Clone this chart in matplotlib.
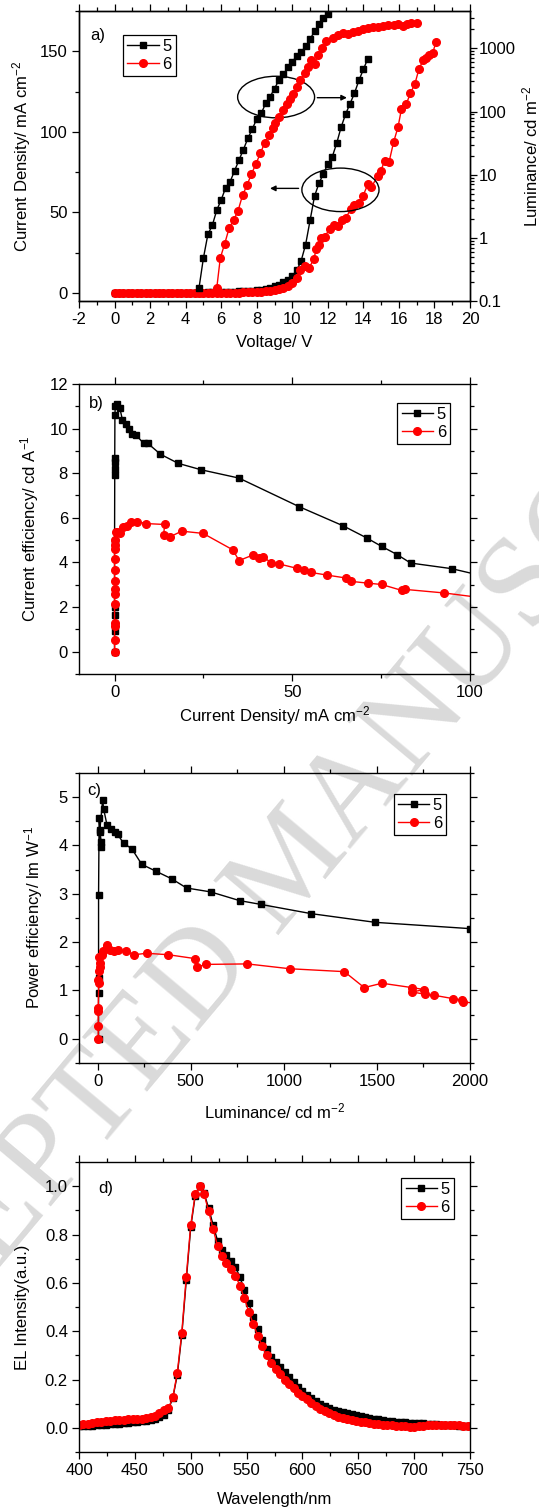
import matplotlib
matplotlib.use("Agg")
import matplotlib.pyplot as plt
from matplotlib.patches import Ellipse
from matplotlib.ticker import MultipleLocator, FixedLocator, FuncFormatter, LogLocator, NullFormatter

plt.rcParams['font.family'] = ['Liberation Sans', 'DejaVu Sans']
plt.rcParams['mathtext.fontset'] = 'custom'
plt.rcParams['mathtext.rm'] = 'Liberation Sans'
plt.rcParams['mathtext.it'] = 'Liberation Sans:italic'
plt.rcParams['axes.unicode_minus'] = False

# ---------------- a) J-V-L ----------------
volt_lum_5 = [4.75, 5.0, 5.25, 5.5, 5.75, 6.0, 6.25, 6.5, 6.75, 7.0, 7.25, 7.5, 7.75, 8.0, 8.25,
              8.5, 8.75, 9.0, 9.25, 9.5, 9.75, 10.0, 10.25, 10.5, 10.75, 11.0, 11.25, 11.5, 11.75, 12.0]
lum_5 = [0.16, 0.48, 1.13, 1.58, 2.74, 4.0, 6.2, 7.7, 11.5, 17, 25, 37.5, 53, 76, 93,
         134, 171, 230, 316, 390, 500, 610, 755, 870, 1080, 1400, 1850, 2400, 3000, 3500]

volt_lum_6 = [5.75, 5.95, 6.2, 6.45, 6.7, 6.95, 7.2, 7.45, 7.7, 7.95, 8.2, 8.45, 8.7, 8.9, 9.05,
              9.25, 9.45, 9.7, 9.85, 10.05, 10.25, 10.45, 10.7, 10.9, 11.05, 11.25, 11.45, 11.7,
              11.9, 12.3, 12.55, 12.85, 13.15, 13.4, 13.7, 14.0, 14.25, 14.55, 14.85, 15.1,
              15.4, 15.7, 15.95, 16.25, 16.45, 16.7, 17.0]
lum_6 = [0.16, 0.48, 0.81, 1.44, 1.9, 2.7, 4.7, 6.8, 10.2, 14.7, 21.7, 32, 42, 54, 66,
         82, 105, 131, 155, 187, 246, 314, 400, 510, 650, 575, 780, 1000,
         1320, 1480, 1630, 1770, 1700, 1790, 1880, 1990, 2080, 2150, 2200, 2260,
         2320, 2370, 2430, 2260, 2430, 2500, 2560]

volt_j_5 = [0.0, 0.25, 0.5, 0.75, 1.0, 1.25, 1.5, 1.75, 2.0, 2.25, 2.5, 2.75, 3.0, 3.25, 3.5,
            3.75, 4.0, 4.25, 4.5, 4.75, 5.0, 5.25, 5.5, 5.75, 6.0, 6.25, 6.5, 6.75, 7.0, 7.25,
            7.5, 7.75, 8.0, 8.25, 8.5, 8.75, 9.0, 9.25, 9.5, 9.75, 10.0, 10.25, 10.5, 10.75,
            11.0, 11.25, 11.5, 11.75, 12.0, 12.25, 12.5, 12.75, 13.0, 13.25, 13.5, 13.75,
            14.0, 14.25]
j_5 = [0, 0, 0, 0, 0, 0, 0, 0, 0, 0, 0, 0, 0, 0, 0,
       0, 0, 0.1, 0.1, 0.2, 0.2, 0.3, 0.3, 0.4, 0.5, 0.6, 0.7, 0.8, 0.9, 1.0,
       1.2, 1.4, 1.7, 2.0, 2.5, 3.0, 4.0, 5.0, 6.5, 8.0, 10.5, 14, 20, 30,
       45, 60, 68, 74, 80, 84.5, 93, 103, 111, 117.5, 124, 132,
       138.7, 145.5]

volt_j_6 = [0.0, 0.25, 0.5, 0.75, 1.0, 1.25, 1.5, 1.75, 2.0, 2.25, 2.5, 2.75, 3.0, 3.25, 3.5,
            3.75, 4.0, 4.25, 4.5, 4.75, 5.0, 5.25, 5.5, 5.75, 6.0, 6.25, 6.5, 6.75, 7.0, 7.25,
            7.5, 7.75, 8.0, 8.25, 8.5, 8.75, 9.0, 9.25, 9.5, 9.75, 10.0, 10.25, 10.45, 10.7,
            10.95, 11.2, 11.35, 11.5, 11.63, 11.82, 12.1, 12.33, 12.57, 12.82, 13.04, 13.29,
            13.5, 13.75, 13.98, 14.26, 14.45, 14.8, 14.98, 15.2, 15.45, 15.7, 15.95, 16.14,
            16.42, 16.65, 16.9, 17.12, 17.36, 17.5, 17.7, 17.9, 18.08]
j_6 = [0, 0, 0, 0, 0, 0, 0, 0, 0, 0, 0, 0, 0, 0, 0,
       0, 0, 0, 0, 0, 0, 0, 0, 0, 0, 0.1, 0.1, 0.2, 0.2, 0.3,
       0.4, 0.5, 0.6, 0.8, 1.0, 1.3, 1.7, 2.2, 3.0, 4.2, 6.0, 9.0, 14.5, 16.6,
       15.6, 20.8, 27, 30, 34, 35, 39.5, 42, 41.5, 45, 46.8, 52.4,
       54.5, 56, 60.3, 67.6, 65.5, 72.7, 75.9, 82, 81.5, 93.6, 103, 114,
       117.5, 124, 129.8, 138.7, 144.5, 146, 147.6, 149, 155.5]

# ---------------- b) CE vs J ----------------
j_ce_5 = [0, 0, 0, 0, 0, 0.05, 0.05, 0.05, 0.05, 0.1, 0.2, 0.8, 1.5, 2.2, 3.1, 4.1, 5.0, 6.1,
          8.2, 9.4, 12.9, 17.9, 24.4, 35, 51.9, 64.3, 70.9, 75.1, 79.5, 83.3, 94.8, 105]
ce_5 = [0, 0.94, 1.65, 1.98, 4.97, 7.9, 8.2, 8.5, 8.7, 10.6, 11.0, 11.1, 10.9, 10.4, 10.2, 10.0,
        9.75, 9.7, 9.33, 9.33, 8.85, 8.44, 8.15, 7.78, 6.5, 5.64, 5.1, 4.72, 4.35, 3.97, 3.72, 3.34]

j_ce_6 = [0, 0, 0, 0, 0, 0, 0, 0, 0, 0, 0, 0.1, 0.2, 0.3, 0.66, 1.6, 2.3, 3.4, 4.5, 6.3, 8.9,
          14.1, 13.8, 15.6, 18.9, 24.9, 33.3, 35, 38.9, 40.6, 41.8, 44.1, 46.3, 51.4, 53.3,
          55.2, 59.8, 65.1, 66.5, 71.2, 75.1, 80.9, 81.7, 92.7, 105]
ce_6 = [0, 0.52, 1.16, 1.3, 2.12, 2.58, 2.8, 3.17, 3.65, 4.15, 4.6, 4.8, 5.0, 5.35, 5.37, 5.34,
        5.57, 5.64, 5.83, 5.83, 5.74, 5.7, 5.23, 5.15, 5.4, 5.3, 4.56, 4.08, 4.33, 4.18, 4.25,
        3.98, 3.93, 3.73, 3.67, 3.55, 3.43, 3.3, 3.15, 3.07, 3.01, 2.74, 2.79, 2.63, 2.38]

# ---------------- c) PE vs L ----------------
lum_pe_5 = [5, 5, 5, 5, 8, 14, 18, 18, 12, 27, 32, 50, 71, 94, 107, 139, 184, 237, 312, 398,
            478, 607, 762, 878, 1147, 1491, 2000]
pe_5 = [0, 0.94, 1.25, 2.97, 4.57, 4.27, 4.07, 3.96, 4.32, 4.95, 4.76, 4.43, 4.35, 4.28, 4.23,
        4.05, 3.93, 3.61, 3.47, 3.31, 3.12, 3.04, 2.86, 2.78, 2.59, 2.41, 2.28]

lum_pe_6 = [3, 3, 3, 3, 6, 3, 6, 12, 12, 9, 21, 30, 48, 48, 66, 89, 111, 152, 196, 263, 380,
            523, 536, 584, 804, 1032, 1325, 1432, 1527, 1688, 1754, 1691, 1759, 1809, 1911,
            1959, 1965, 2030]
pe_6 = [0, 0.27, 0.57, 0.63, 1.15, 1.22, 1.4, 1.49, 1.57, 1.69, 1.74, 1.81, 1.9, 1.95, 1.84,
        1.81, 1.83, 1.81, 1.74, 1.77, 1.74, 1.66, 1.49, 1.54, 1.55, 1.45, 1.39, 1.06, 1.15,
        1.06, 1.02, 0.97, 0.92, 0.90, 0.83, 0.80, 0.76, 0.74]

# ---------------- d) EL spectra ----------------
wavelength = [400, 404, 408, 412, 416, 420, 424, 428, 432, 436, 440, 444, 448, 452, 456,
              460, 464, 468, 472, 476, 480, 484, 488, 492, 496, 500, 504, 508, 512, 516,
              520, 524, 528, 532, 536, 540, 544, 548, 552, 556, 560, 564, 568, 572, 576,
              580, 584, 588, 592, 596, 600, 604, 608, 612, 616, 620, 624, 628, 632, 636,
              640, 644, 648, 652, 656, 660, 664, 668, 672, 676, 680, 684, 688, 692, 696,
              700, 704, 708, 712, 716, 720, 724, 728, 732, 736, 740, 744, 748]
el_5 = [0.006, 0.007, 0.008, 0.009, 0.011, 0.0125, 0.014, 0.015, 0.016, 0.018, 0.019, 0.021,
        0.023, 0.025, 0.027, 0.029, 0.032, 0.037, 0.045, 0.055, 0.075, 0.125, 0.22, 0.385,
        0.61, 0.83, 0.96, 1.0, 0.97, 0.91, 0.84, 0.775, 0.735, 0.715, 0.69, 0.665, 0.625,
        0.57, 0.515, 0.46, 0.41, 0.365, 0.325, 0.295, 0.272, 0.25, 0.23, 0.21, 0.19, 0.17,
        0.153, 0.138, 0.123, 0.11, 0.10, 0.091, 0.083, 0.075, 0.069, 0.064, 0.061, 0.058,
        0.055, 0.051, 0.046, 0.041, 0.038, 0.035, 0.032, 0.030, 0.028, 0.026, 0.024, 0.023,
        0.022, 0.021, 0.021, 0.020, 0.018, 0.016, 0.015, 0.013, 0.012, 0.011, 0.010, 0.009,
        0.008, 0.006]
el_6 = [0.012, 0.015, 0.018, 0.021, 0.023, 0.025, 0.027, 0.029, 0.031, 0.033, 0.034, 0.035,
        0.036, 0.037, 0.038, 0.039, 0.043, 0.050, 0.062, 0.072, 0.081, 0.127, 0.229, 0.394,
        0.625, 0.839, 0.966, 1.0, 0.966, 0.897, 0.823, 0.753, 0.712, 0.684, 0.657, 0.630,
        0.589, 0.536, 0.481, 0.430, 0.382, 0.339, 0.300, 0.267, 0.245, 0.224, 0.200, 0.181,
        0.164, 0.146, 0.132, 0.118, 0.103, 0.092, 0.080, 0.068, 0.060, 0.052, 0.046, 0.041,
        0.037, 0.033, 0.029, 0.026, 0.023, 0.020, 0.018, 0.016, 0.014, 0.013, 0.011, 0.009,
        0.007, 0.006, 0.005, 0.004, 0.008, 0.009, 0.010, 0.011, 0.012, 0.012, 0.012, 0.013,
        0.012, 0.010, 0.008, 0.006]

labels = ['5', '6']

BLACK = dict(color='black', marker='s', ms=4.5, lw=1.0, mec='black', mfc='black')
RED = dict(color='red', marker='o', ms=5.5, lw=1.0, mec='red', mfc='red')


def style(ax, right=True):
    for s in ax.spines.values():
        s.set_linewidth(1.0)
    ax.tick_params(which='both', direction='out', top=True, right=right, labelsize=12, width=0.9)
    ax.tick_params(which='major', length=5, pad=3)
    ax.tick_params(which='minor', length=3)
    ax.set_facecolor('none')


def legend(ax, handles, anchor, loc):
    leg = ax.legend(handles, labels, loc=loc, bbox_to_anchor=anchor, fontsize=12,
                    frameon=True, fancybox=False, edgecolor='black', framealpha=1,
                    borderpad=0.25, handlelength=1.9, handletextpad=0.2, labelspacing=0.15,
                    borderaxespad=0)
    leg.get_frame().set_linewidth(0.9)


fig = plt.figure(figsize=(5.39, 15.08), dpi=100)

# watermark behind everything
fig.text(0.549, 0.425, 'ACCEPTED MANUSCRIPT', fontsize=93, family='Liberation Serif',
         color='#dadada', rotation=50, ha='center', va='center', rotation_mode='anchor',
         zorder=-5)

L, W, H = 0.1466, 0.7254, 0.1923

# a)
ax = fig.add_axes([L, 0.8004, W, H])
style(ax, right=False)
ax.plot(volt_j_5, j_5, **BLACK)
ax.plot(volt_j_6, j_6, **RED)
ax.set_xlim(-2, 20)
ax.set_ylim(-5, 175)
ax.xaxis.set_major_locator(MultipleLocator(2))
ax.xaxis.set_minor_locator(MultipleLocator(1))
ax.yaxis.set_major_locator(MultipleLocator(50))
ax.yaxis.set_minor_locator(MultipleLocator(25))
ax.set_xlabel('Voltage/ V', fontsize=12, labelpad=6)
ax.set_ylabel('Current Density/ mA cm$^{-2}$', fontsize=12, labelpad=5)
ax2 = ax.twinx()
ax2.set_facecolor('none')
for s in ax2.spines.values():
    s.set_linewidth(1.0)
h5, = ax2.plot(volt_lum_5, lum_5, **BLACK)
h6, = ax2.plot(volt_lum_6, lum_6, **RED)
ax2.set_yscale('log')
ax2.set_ylim(0.1, 3900)
ax2.yaxis.set_major_locator(FixedLocator([0.1, 1, 10, 100, 1000]))
ax2.yaxis.set_major_formatter(FuncFormatter(lambda v, p: '%g' % v))
ax2.yaxis.set_minor_locator(LogLocator(base=10, subs=range(2, 10)))
ax2.yaxis.set_minor_formatter(NullFormatter())
ax2.tick_params(which='both', direction='out', labelsize=12, width=0.9)
ax2.tick_params(which='major', length=5, pad=1)
ax2.tick_params(which='minor', length=3)
ax2.set_ylabel('Luminance/ cd m$^{-2}$', fontsize=12, labelpad=4)
ax.add_patch(Ellipse((9.09, 121.6), 4.33, 25.8, fill=False, ec='black', lw=1.0, zorder=5))
ax.add_patch(Ellipse((12.71, 64.0), 4.34, 27.0, fill=False, ec='black', lw=1.0, zorder=5))
ax.annotate('', xy=(13.23, 121.2), xytext=(11.25, 121.2),
            arrowprops=dict(arrowstyle='-|>', color='black', lw=1.0, mutation_scale=8))
ax.annotate('', xy=(8.59, 64.9), xytext=(10.51, 64.9),
            arrowprops=dict(arrowstyle='-|>', color='black', lw=1.0, mutation_scale=8))
ax.text(0.03, 0.917, 'a)', transform=ax.transAxes, fontsize=12, va='center')
legend(ax, [h5, h6], (0.113, 0.917), 'upper left')

# b)
bx = fig.add_axes([L, 0.5531, W, H])
style(bx)
b5, = bx.plot(j_ce_5, ce_5, **BLACK)
b6, = bx.plot(j_ce_6, ce_6, **RED)
bx.set_xlim(-10, 100)
bx.set_ylim(-1, 12)
bx.xaxis.set_major_locator(MultipleLocator(50))
bx.xaxis.set_minor_locator(MultipleLocator(25))
bx.yaxis.set_major_locator(MultipleLocator(2))
bx.yaxis.set_minor_locator(MultipleLocator(1))
bx.set_xlabel('Current Density/ mA cm$^{-2}$', fontsize=12, labelpad=3)
bx.set_ylabel('Current efficiency/ cd A$^{-1}$', fontsize=12, labelpad=6)
bx.text(0.026, 0.934, 'b)', transform=bx.transAxes, fontsize=12, va='center')
legend(bx, [b5, b6], (0.949, 0.934), 'upper right')

# c)
cx = fig.add_axes([L, 0.2951, W, H])
style(cx)
c5, = cx.plot(lum_pe_5, pe_5, **BLACK)
c6, = cx.plot(lum_pe_6, pe_6, **RED)
cx.set_xlim(-100, 2000)
cx.set_ylim(-0.5, 5.5)
cx.xaxis.set_major_locator(MultipleLocator(500))
cx.xaxis.set_minor_locator(MultipleLocator(250))
cx.yaxis.set_major_locator(MultipleLocator(1))
cx.yaxis.set_minor_locator(MultipleLocator(0.5))
cx.set_xlabel('Luminance/ cd m$^{-2}$', fontsize=12, labelpad=9)
cx.set_ylabel('Power efficiency/ lm W$^{-1}$', fontsize=12, labelpad=10)
cx.text(0.02, 0.941, 'c)', transform=cx.transAxes, fontsize=12, va='center')
legend(cx, [c5, c6], (0.939, 0.928), 'upper right')

# d)
dx = fig.add_axes([L, 0.0371, W, H])
style(dx)
d5, = dx.plot(wavelength, el_5, **BLACK)
d6, = dx.plot(wavelength, el_6, **RED)
dx.set_xlim(400, 750)
dx.set_ylim(-0.1, 1.1)
dx.xaxis.set_major_locator(MultipleLocator(50))
dx.xaxis.set_minor_locator(MultipleLocator(25))
dx.yaxis.set_major_locator(MultipleLocator(0.2))
dx.yaxis.set_minor_locator(MultipleLocator(0.1))
dx.yaxis.set_major_formatter(FuncFormatter(lambda v, p: '%.1f' % v))
dx.set_xlabel('Wavelength/nm', fontsize=12, labelpad=10)
dx.set_ylabel('EL Intensity(a.u.)', fontsize=12, labelpad=11)
dx.text(0.05, 0.91, 'd)', transform=dx.transAxes, fontsize=12, va='center')
legend(dx, [d5, d6], (0.959, 0.945), 'upper right')

fig.savefig('out.png', dpi=100)
